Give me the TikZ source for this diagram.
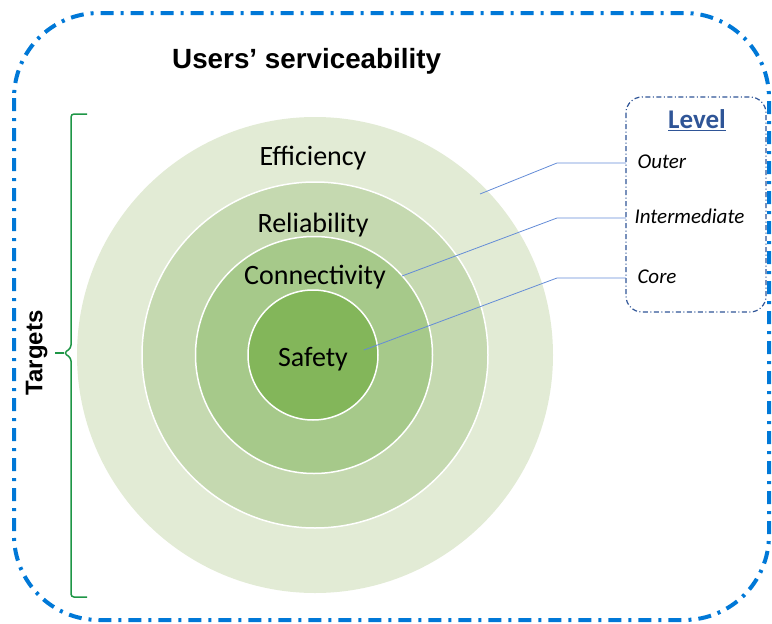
\documentclass[tikz,border=0pt]{standalone}
\usepackage{fontspec}
\setmainfont{Carlito}
\newfontfamily\headfont{Liberation Sans}
\usetikzlibrary{
    positioning
}
\definecolor{frameblue}{RGB}{0,120,215}
\definecolor{levelblue}{RGB}{47,85,151}
\definecolor{leadblue}{RGB}{100,140,215}
\definecolor{bracegreen}{RGB}{30,150,70}
\definecolor{ringA}{RGB}{226,235,213}
\definecolor{ringB}{RGB}{197,217,176}
\definecolor{ringC}{RGB}{166,201,138}
\definecolor{ringD}{RGB}{131,182,90}
\tikzstyle{ring} = [
    circle,
    draw=white,
    line width=1.5pt,
    inner sep=0pt
]
\tikzstyle{ringlabel} = [
    anchor=base,
    font=\fontsize{28}{32}\selectfont
]
\tikzstyle{levelitem} = [
    anchor=west,
    font=\fontsize{21}{25}\selectfont\itshape
]
\tikzstyle{leader} = [
    leadblue,
    line width=0.8pt
]

\begin{document}
\begin{tikzpicture}[x=1pt,y=-1pt]
\useasboundingbox (0,0) rectangle (772,624);
\draw[frameblue, line width=4pt, rounded corners=85pt,
      dash pattern=on 13pt off 7pt on 3pt off 7pt] (14,13) rectangle (769,620);
\node[anchor=base west, inner sep=0pt, font=\headfont\bfseries\fontsize{27.8}{32}\selectfont] (title) at (172,68) {Users’ serviceability};

\node[ring, draw=none, fill=ringA, minimum size=476pt] (outer)   at (315,355) {};
\node[ring, fill=ringB, minimum size=346pt]            (middle)  at (315,355) {};
\node[ring, fill=ringC, minimum size=237pt]            (inner)   at (314,355) {};
\node[ring, fill=ringD, minimum size=130pt]            (core)    at (313,355) {};

\node[ringlabel] (efficiency)   at (313,165) {Efficiency};
\node[ringlabel] (reliability)  at (313,232) {Reliability};
\node[ringlabel] (connectivity) at (315,284) {Connectivity};
\node[ringlabel] (safety)       at (313,366) {Safety};

\draw[bracegreen, line width=1.5pt, rounded corners=3pt]
    (87,114) -- (71,114) -- (71,348) -- (64,353) -- (71,358) -- (71,597) -- (87,597);
\draw[bracegreen, line width=1.5pt] (64,353) -- (55,353) coordinate (tip);
\node[rotate=90, anchor=south, font=\headfont\bfseries\fontsize{24}{28}\selectfont] (targets) at ([xshift=-4pt]tip) {Targets};

\draw[levelblue, line width=1.2pt, rounded corners=16pt,
      dash pattern=on 5pt off 2.5pt on 1pt off 2.5pt] (626,97) rectangle (766,312);
\node[minimum width=140pt, minimum height=215pt] (level) at (696,204.5) {};
\node[font=\bfseries\fontsize{27}{31}\selectfont, text=levelblue] (leveltitle) at (697,120) {\underline{Level}};
\node[levelitem] (outerlvl) at (634,162) {Outer};
\node[levelitem] (interlvl) at (631,216) {Intermediate};
\node[levelitem] (corelvl)  at (634,277) {Core};

\coordinate (p1) at (480,194);
\coordinate (b1) at (557,163);
\coordinate (p2) at (402,276);
\coordinate (b2) at (557,218);
\coordinate (p3) at (364,350);
\coordinate (b3) at (557,278);
\draw[leader] (p1) -- (b1) -- (b1 -| level.west);
\draw[leader] (p2) -- (b2) -- (b2 -| level.west);
\draw[leader] (p3) -- (b3) -- (b3 -| level.west);
\end{tikzpicture}
\end{document}
